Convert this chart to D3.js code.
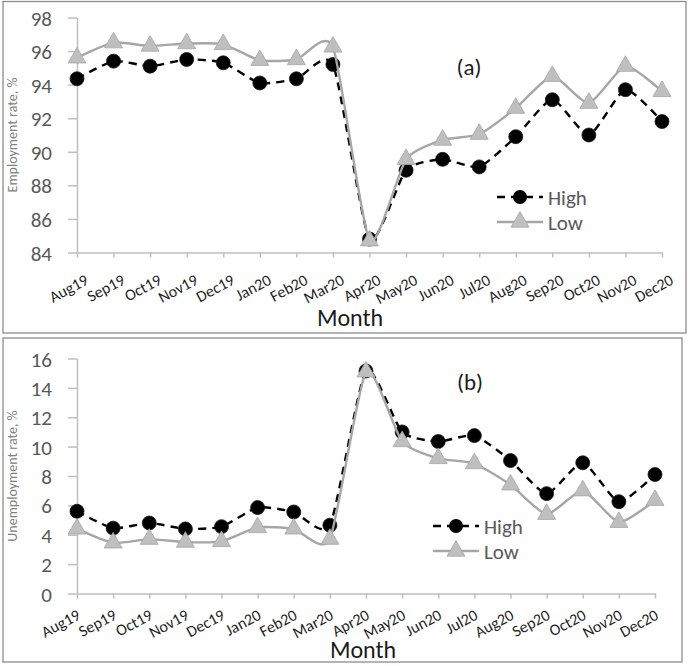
<!DOCTYPE html>
<html>
<head>
<meta charset="utf-8">
<script src="https://cdn.jsdelivr.net/npm/d3@7"></script>
<style>
  html, body { margin: 0; padding: 0; background: #fff; }
  svg { display: block; }
  text { font-family: Carlito, Calibri, Lato, "Open Sans", sans-serif; }
</style>
</head>
<body>
<svg id="chart" width="688" height="666"></svg>
<script>
const months = ["Aug19","Sep19","Oct19","Nov19","Dec19","Jan20","Feb20","Mar20","Apr20",
                "May20","Jun20","Jul20","Aug20","Sep20","Oct20","Nov20","Dec20"];
const empHigh   = [94.35, 95.4, 95.1, 95.5, 95.3, 94.1, 94.35, 95.2, 84.8, 88.9, 89.55, 89.1, 90.9, 93.1, 91.0, 93.7, 91.8];
const empLow    = [95.6, 96.5, 96.3, 96.45, 96.4, 95.45, 95.5, 96.25, 84.7, 89.55, 90.7, 91.05, 92.6, 94.5, 92.9, 95.1, 93.6];
const unempHigh = [5.6, 4.45, 4.8, 4.4, 4.55, 5.85, 5.55, 4.65, 15.15, 11.0, 10.35, 10.75, 9.05, 6.8, 8.9, 6.25, 8.1];
const unempLow  = [4.4, 3.45, 3.7, 3.5, 3.55, 4.5, 4.4, 3.7, 15.1, 10.35, 9.2, 8.85, 7.4, 5.4, 7.0, 4.85, 6.35];
const empTicks   = [84, 86, 88, 90, 92, 94, 96, 98];
const unempTicks = [0, 2, 4, 6, 8, 10, 12, 14, 16];
const seriesNames = ["High", "Low"];

const svg = d3.select("#chart");

const panels = [
  { border: [3, 1.5, 683, 331.5], x: [77, 662], y: [252.5, 17.5], domain: [84, 98], ticks: empTicks,
    high: empHigh, low: empLow, yTitle: "Employment rate, %", tag: "(a)", tagPos: [469, 75],
    monthPos: [350, 326], legend: [497, 197], labelShift: [12, 31] },
  { border: [3, 338, 679, 324], x: [77, 655], y: [593.5, 358.5], domain: [0, 16], ticks: unempTicks,
    high: unempHigh, low: unempLow, yTitle: "Unemployment rate, %", tag: "(b)", tagPos: [470, 390],
    monthPos: [363, 658], legend: [433, 526], labelShift: [4, 25] }
];

const axisColor = "#BFBFBF";
const lowLine = "#A6A6A6";
const lowFill = "#BFBFBF";
const triangle = d3.symbol().type(d3.symbolTriangle).size(140);

panels.forEach(p => {
  const g = svg.append("g");
  g.append("rect")
    .attr("x", p.border[0]).attr("y", p.border[1])
    .attr("width", p.border[2]).attr("height", p.border[3])
    .attr("fill", "none").attr("stroke", "#8C8C8C").attr("stroke-width", 1.3);

  const x = d3.scalePoint().domain(months).range(p.x);
  const y = d3.scaleLinear().domain(p.domain).range(p.y);

  // y axis
  const yAxis = g.append("g").attr("transform", `translate(${p.x[0]},0)`)
    .call(d3.axisLeft(y).tickValues(p.ticks).tickSize(9).tickSizeOuter(0).tickPadding(16));
  yAxis.select(".domain").attr("stroke", axisColor).attr("stroke-width", 1.5);
  yAxis.selectAll(".tick line").attr("stroke", axisColor).attr("stroke-width", 1.5);
  yAxis.selectAll(".tick text").attr("fill", "#595959").style("font-size", "21px")
    .attr("dy", "0.36em");

  // x axis
  const xAxis = g.append("g").attr("transform", `translate(0,${p.y[0]})`)
    .call(d3.axisBottom(x).tickSize(5).tickSizeOuter(0));
  xAxis.select(".domain").attr("stroke", axisColor).attr("stroke-width", 1.5);
  xAxis.selectAll(".tick line").attr("stroke", axisColor).attr("stroke-width", 1.5);
  xAxis.selectAll(".tick text")
    .attr("fill", "#1f1f1f").style("font-size", "16px")
    .attr("text-anchor", "end").attr("dy", null).attr("y", null)
    .attr("transform", `translate(${p.labelShift[0]},${p.labelShift[1]}) rotate(-28)`);

  // titles
  g.append("text")
    .attr("transform", `translate(17,${(p.y[0] + p.y[1]) / 2}) rotate(-90)`)
    .attr("text-anchor", "middle").attr("fill", "#808080").style("font-size", "14px")
    .text(p.yTitle);
  g.append("text").attr("x", p.monthPos[0]).attr("y", p.monthPos[1])
    .attr("text-anchor", "middle").attr("fill", "#1a1a1a").style("font-size", "24px")
    .text("Month");
  g.append("text").attr("x", p.tagPos[0]).attr("y", p.tagPos[1])
    .attr("text-anchor", "middle").attr("fill", "#1a1a1a").style("font-size", "23px")
    .text(p.tag);

  const line = d3.line().x((d, i) => x(months[i])).y(d => y(d)).curve(d3.curveCardinal.tension(0.4));

  // High series
  g.append("path").datum(p.high).attr("d", line)
    .attr("fill", "none").attr("stroke", "#000").attr("stroke-width", 2.4)
    .attr("stroke-dasharray", "8,6");
  g.selectAll(".hi").data(p.high).join("circle")
    .attr("cx", (d, i) => x(months[i])).attr("cy", d => y(d)).attr("r", 7)
    .attr("fill", "#000").attr("stroke", "#1a1a1a").attr("stroke-width", 0.8);

  // Low series
  g.append("path").datum(p.low).attr("d", line)
    .attr("fill", "none").attr("stroke", lowLine).attr("stroke-width", 2.4);
  g.selectAll(".lo").data(p.low).join("path")
    .attr("d", triangle)
    .attr("transform", (d, i) => `translate(${x(months[i])},${y(d)})`)
    .attr("fill", lowFill).attr("stroke", lowLine).attr("stroke-width", 0.8);

  // legend
  const [lx, ly] = p.legend;
  seriesNames.forEach((name, k) => {
    const yy = ly + k * 25;
    const lg = g.append("g");
    lg.append("line").attr("x1", lx).attr("x2", lx + 46).attr("y1", yy).attr("y2", yy)
      .attr("stroke", k === 0 ? "#000" : lowLine).attr("stroke-width", 2.4)
      .attr("stroke-dasharray", k === 0 ? "8,6" : null);
    if (k === 0) {
      lg.append("circle").attr("cx", lx + 23).attr("cy", yy).attr("r", 7).attr("fill", "#000");
    } else {
      lg.append("path").attr("d", triangle).attr("transform", `translate(${lx + 23},${yy})`)
        .attr("fill", lowFill).attr("stroke", lowLine).attr("stroke-width", 0.8);
    }
    lg.append("text").attr("x", lx + 51).attr("y", yy).attr("dy", "0.36em")
      .attr("fill", "#595959").style("font-size", "21px").text(name);
  });
});
</script>
</body>
</html>
